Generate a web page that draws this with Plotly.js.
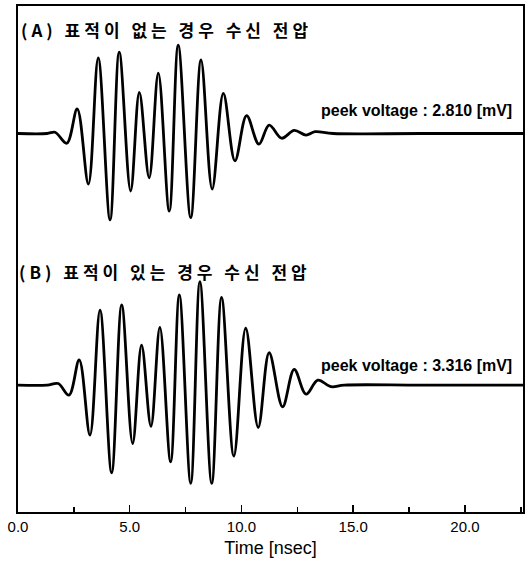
<!DOCTYPE html>
<html>
<head>
<meta charset="utf-8">
<script src="https://cdn.plot.ly/plotly-3.0.1.min.js"></script>
<style>
  html, body { margin: 0; padding: 0; background: #fff; }
  #chart { width: 526px; height: 569px; }
</style>
</head>
<body>
<div id="chart"></div>
<script>
// ---- Data ----
// (A) received voltage without target: time [nsec] of local extrema and their value [mV]
const timeA = [0, 1.30, 1.66, 2.18, 2.65, 3.15, 3.59, 4.12, 4.53, 5.04, 5.43, 5.87, 6.28, 6.77, 7.17,
               7.73, 8.19, 8.69, 9.19, 9.71, 10.23, 10.78, 11.24, 11.80, 12.36, 12.89, 13.29, 14.1, 18.0, 22.6];
const voltA = [0, 0, 0.04, -0.31, 0.78, -1.61, 2.41, -2.75, 2.59, -1.83, 1.31, -1.41, 1.92, -2.47, 2.81,
               -2.68, 2.34, -1.77, 1.28, -0.87, 0.57, -0.34, 0.27, -0.15, 0.10, -0.05, 0.06, 0, 0, 0];

// (B) received voltage with target
const timeB = [0, 1.30, 1.80, 2.28, 2.74, 3.22, 3.67, 4.19, 4.64, 5.13, 5.53, 5.95, 6.35, 6.83, 7.22,
               7.73, 8.14, 8.67, 9.11, 9.66, 10.19, 10.75, 11.24, 11.84, 12.36, 12.89, 13.42, 14.00, 14.6, 18.0, 22.6];
const voltB = [0, 0, 0.05, -0.32, 0.80, -1.59, 2.39, -2.79, 2.55, -1.86, 1.27, -1.31, 1.84, -2.44, 2.87,
               -3.13, 3.29, -3.13, 2.79, -2.26, 1.81, -1.35, 1.03, -0.69, 0.50, -0.29, 0.16, -0.05, 0, 0, 0];

const labelA = '(A) 표적이 없는 경우 수신 전압';
const labelB = '(B) 표적이 있는 경우 수신 전압';
const peakA = '<b>peek voltage : 2.810 [mV]</b>';
const peakB = '<b>peek voltage : 3.316 [mV]</b>';
const xTitle = 'Time [nsec]';

// ---- Traces ----
const lineStyle = { color: '#000', width: 2.8, shape: 'spline', smoothing: 1 };
const traces = [
  { x: timeA, y: voltA, type: 'scatter', mode: 'lines', line: lineStyle, yaxis: 'y', hoverinfo: 'skip' },
  { x: timeB, y: voltB, type: 'scatter', mode: 'lines', line: lineStyle, yaxis: 'y2', hoverinfo: 'skip' }
];

const korFont = { family: '"Noto Sans CJK KR", sans-serif', size: 17, color: '#000', weight: 'bold' };
const latFont = { family: 'Arial, "Liberation Sans", sans-serif', size: 16, color: '#000' };

const layout = {
  width: 526, height: 569,
  margin: { l: 18, r: 3, t: 6, b: 57, pad: 0 },
  paper_bgcolor: '#fff', plot_bgcolor: '#fff',
  showlegend: false,
  xaxis: {
    range: [0, 22.6], tick0: 0, dtick: 5, tickformat: '.1f',
    ticks: 'inside', ticklen: 7, tickwidth: 1.5, tickcolor: '#000',
    minor: { dtick: 2.5, ticks: 'inside', ticklen: 5, tickwidth: 1.5, tickcolor: '#000', showgrid: false },
    showline: true, linewidth: 2, linecolor: '#000', mirror: true,
    showgrid: false, zeroline: false,
    tickfont: { family: '"Liberation Sans Narrow", "Arial Narrow", Arial, sans-serif', size: 15, color: '#000' },
    title: { text: xTitle, font: { family: 'Arial, "Liberation Sans", sans-serif', size: 18, color: '#000' }, standoff: 7 }
  },
  yaxis: {
    range: [-12.05, 4.06], showline: true, linewidth: 2, linecolor: '#000', mirror: true,
    ticks: '', showticklabels: false, showgrid: false, zeroline: false
  },
  yaxis2: {
    range: [-4.04, 12.07], overlaying: 'y', visible: false
  },
  annotations: [
    { xref: 'paper', yref: 'paper', x: 0.294, y: 0.953, xanchor: 'center', yanchor: 'middle', text: labelA, showarrow: false, font: korFont },
    { xref: 'paper', yref: 'paper', x: 0.292, y: 0.476, xanchor: 'center', yanchor: 'middle', text: labelB, showarrow: false, font: korFont },
    { xref: 'paper', yref: 'paper', x: 0.982, y: 0.794, xanchor: 'right', yanchor: 'middle', text: peakA, showarrow: false, font: latFont },
    { xref: 'paper', yref: 'paper', x: 0.983, y: 0.289, xanchor: 'right', yanchor: 'middle', text: peakB, showarrow: false, font: latFont }
  ]
};

Plotly.newPlot('chart', traces, layout, { staticPlot: true, displayModeBar: false }).then(function () {
  document.querySelectorAll('.annotation-text').forEach(function (el) {
    if (/[\uAC00-\uD7A3]/.test(el.textContent)) {
      el.style.letterSpacing = '4px';
    }
  });
});
</script>
</body>
</html>
